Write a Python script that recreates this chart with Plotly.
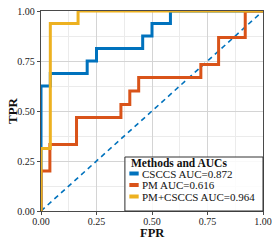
import plotly.graph_objects as go

# ROC step points (drawn with 'hv' line shape)
fpr_csccs = [0, 0, 0.042, 0.208, 0.25, 0.458, 0.5, 0.583, 1.0]
tpr_csccs = [0, 0.625, 0.6875, 0.75, 0.8125, 0.875, 0.9375, 1.0, 1.0]

fpr_pm = [0, 0, 0.04, 0.16, 0.36, 0.40, 0.44, 0.72, 0.80, 0.92, 1.0]
tpr_pm = [0, 0.2, 0.333, 0.467, 0.533, 0.6, 0.667, 0.733, 0.867, 1.0, 1.0]

fpr_both = [0, 0, 0.042, 0.167, 1.0]
tpr_both = [0, 0.3125, 0.9375, 1.0, 1.0]

labels = ["CSCCS AUC=0.872", "PM AUC=0.616", "PM+CSCCS AUC=0.964"]
colors = ["#0072BD", "#D95319", "#EDB120"]
legend_title = "Methods and AUCs"

tick_vals = [0, 0.25, 0.5, 0.75, 1.0]
tick_text = ["0.00", "0.25", "0.50", "0.75", "1.00"]

SERIF = "Liberation Serif"

fig = go.Figure()
fig.add_trace(go.Scatter(x=[0, 1], y=[0, 1], mode="lines",
                         line=dict(color="#0072BD", width=1.6, dash="5px,4px"),
                         showlegend=False, hoverinfo="skip"))
for xs, ys, c, lab in zip([fpr_csccs, fpr_pm, fpr_both], [tpr_csccs, tpr_pm, tpr_both], colors, labels):
    fig.add_trace(go.Scatter(x=xs, y=ys, mode="lines", line=dict(color=c, width=3, shape="hv"),
                             name=lab, showlegend=False))

axis_common = dict(
    range=[0, 1], tickvals=tick_vals, ticktext=tick_text,
    showgrid=True, gridcolor="#d4d4d4", gridwidth=1,
    minor=dict(dtick=0.125, showgrid=True, gridcolor="#ebebeb", gridwidth=1, ticks=""),
    showline=True, mirror=True, linecolor="#4a4a4a", linewidth=1.3,
    ticks="outside", ticklen=3, tickcolor="#4a4a4a", tickwidth=1,
    tickfont=dict(family=SERIF, size=10, color="#222"),
    zeroline=False, automargin=False,
)
fig.update_xaxes(**axis_common, ticklabelstandoff=-2)
fig.update_yaxes(**axis_common)

# Legend drawn as a box with real text
x0, x1, y0, y1 = 0.378, 1.0, 0.0, 0.27
fig.add_shape(type="rect", xref="paper", yref="paper", x0=x0, x1=x1, y0=y0, y1=y1,
              line=dict(color="#333333", width=1), fillcolor="rgba(255,255,255,0.85)", layer="above")
fig.add_annotation(xref="paper", yref="paper", x=0.396, y=0.238, xanchor="left", yanchor="middle",
                   text="<b>%s</b>" % legend_title, showarrow=False,
                   font=dict(family=SERIF, size=11.5, color="#111"))
ys_leg = [0.1875, 0.13, 0.0725]
for lab, c, yy in zip(labels, colors, ys_leg):
    fig.add_shape(type="line", xref="paper", yref="paper", x0=0.398, x1=0.440, y0=yy, y1=yy,
                  line=dict(color=c, width=4), layer="above")
    fig.add_annotation(xref="paper", yref="paper", x=0.446, y=yy, xanchor="left", yanchor="middle",
                       text=lab, showarrow=False, font=dict(family=SERIF, size=11, color="#111"))

# Axis titles
fig.add_annotation(xref="paper", yref="paper", x=0.5, y=-0.11, xanchor="center", yanchor="middle",
                   text="<b>FPR</b>", showarrow=False, font=dict(family=SERIF, size=12.5, color="#111"))
fig.add_annotation(xref="paper", yref="paper", x=-0.1306, y=0.5, xanchor="center", yanchor="middle",
                   text="<b>TPR</b>", textangle=-90, showarrow=False,
                   font=dict(family=SERIF, size=13, color="#111"))

fig.update_layout(
    width=274, height=241,
    margin=dict(l=41, r=11, t=11, b=30),
    plot_bgcolor="white", paper_bgcolor="white",
    showlegend=False,
)
fig.write_html("out.html", config={"displayModeBar": False},
               post_script="document.body.style.margin='0px';document.body.style.overflow='hidden';")
